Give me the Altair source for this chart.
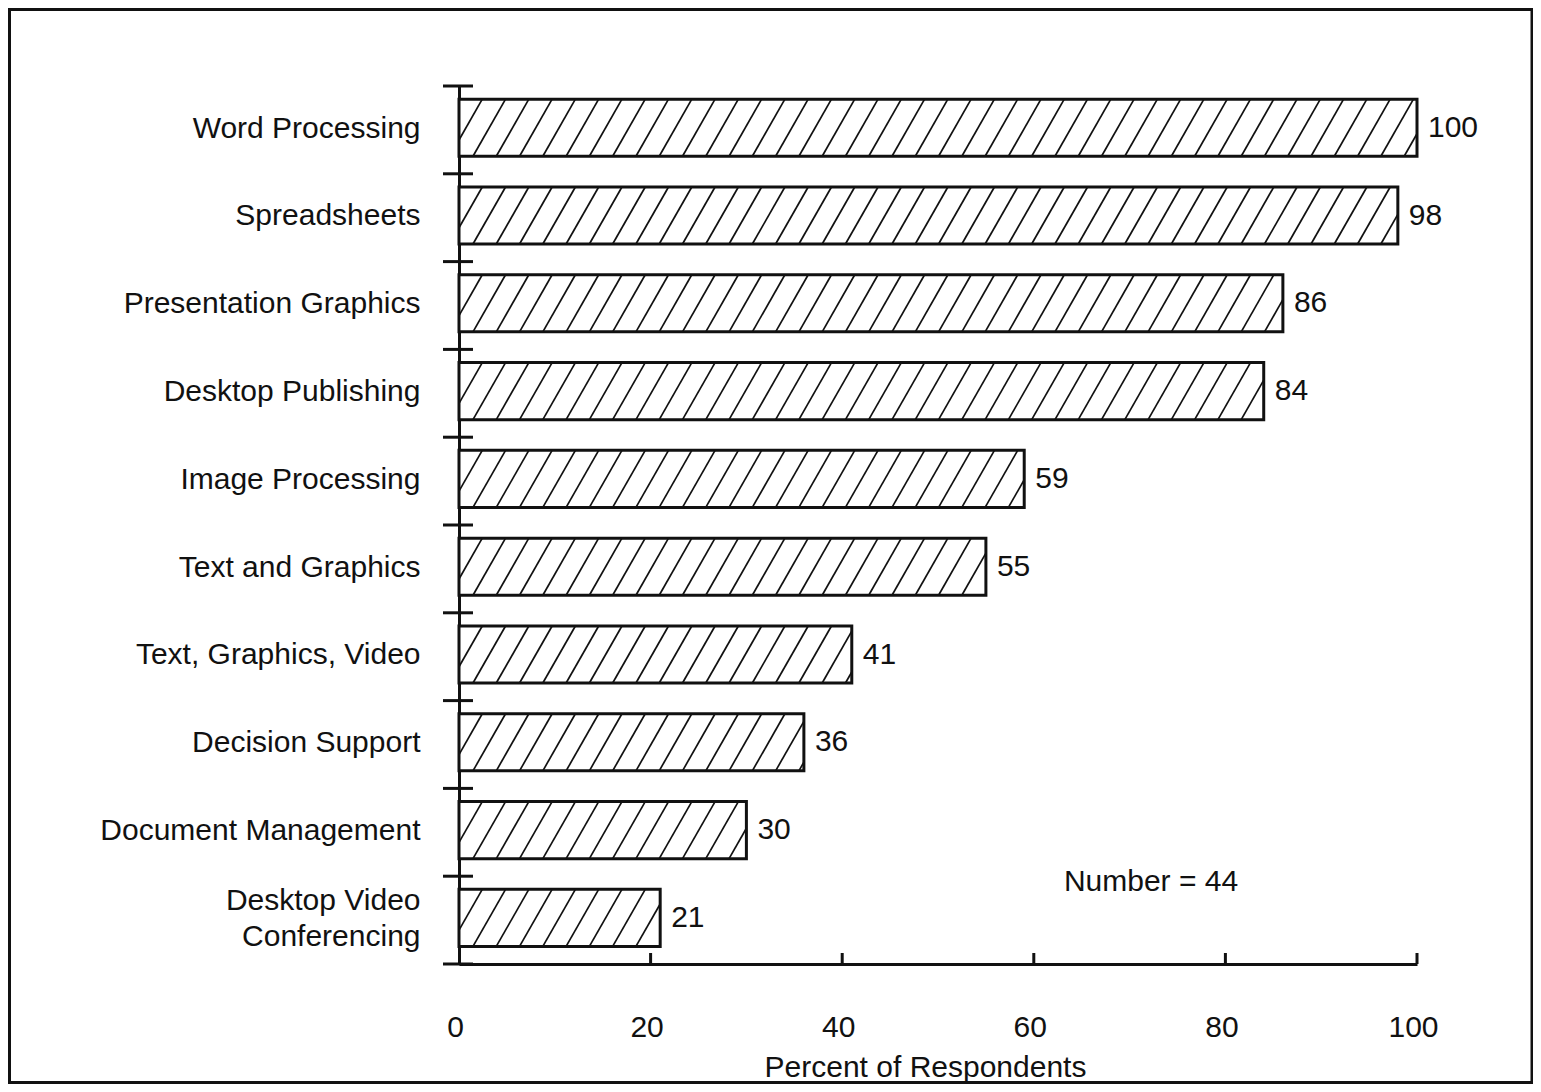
import json
import math
import altair as alt
import pandas as pd

# ---------------- data ----------------
categories = [
    "Word Processing",
    "Spreadsheets",
    "Presentation Graphics",
    "Desktop Publishing",
    "Image Processing",
    "Text and Graphics",
    "Text, Graphics, Video",
    "Decision Support",
    "Document Management",
    "Desktop Video Conferencing",
]
label_lines = [
    ["Word Processing"],
    ["Spreadsheets"],
    ["Presentation Graphics"],
    ["Desktop Publishing"],
    ["Image Processing"],
    ["Text and Graphics"],
    ["Text, Graphics, Video"],
    ["Decision Support"],
    ["Document Management"],
    ["Desktop Video", "Conferencing"],
]
values = [100, 98, 86, 84, 59, 55, 41, 36, 30, 21]
x_ticks = [0, 20, 40, 60, 80, 100]
x_title = "Percent of Respondents"
note_text = "Number = 44"

# ---------------- styling constants ----------------
FONT = "Liberation Sans"
FS = 30
LINE_H = 36
INK = "#111111"
BAR_TOP, BAR_BOT = 0.15, 0.80          # fraction of a category slot
HATCH_STEP, HATCH_RUN, HATCH_PHASE = 2.43, 3.4, 1.46   # in x data units
PLOT_W, PLOT_H = 958, 878

n = len(categories)
bars = pd.DataFrame({"cat": categories, "value": values, "pos": list(range(n))})
bars["zero"] = 0
bars["y0"] = bars["pos"] + BAR_TOP
bars["y1"] = bars["pos"] + BAR_BOT
bars["yc"] = bars["pos"] + (BAR_TOP + BAR_BOT) / 2

# hatch segments, clipped to each bar
rows = []
for p, v in zip(bars["pos"], bars["value"]):
    yb, yt = p + BAR_BOT, p + BAR_TOP
    k = math.floor((-HATCH_RUN - HATCH_PHASE) / HATCH_STEP)
    while True:
        xb = HATCH_PHASE + k * HATCH_STEP
        if xb >= v:
            break
        t0 = max(0.0, (0 - xb) / HATCH_RUN)
        t1 = min(1.0, (v - xb) / HATCH_RUN)
        if t1 > t0:
            rows.append({
                "hx": xb + t0 * HATCH_RUN, "hy": yb + t0 * (yt - yb),
                "hx2": xb + t1 * HATCH_RUN, "hy2": yb + t1 * (yt - yb),
            })
        k += 1
hatch = pd.DataFrame(rows)

ticks_y = pd.DataFrame({"ty": list(range(n + 1))})
ticks_x = pd.DataFrame({"tx": [t for t in x_ticks if t > 0]})

xscale = alt.Scale(domain=[0, 100], nice=False, zero=False)
yscale = alt.Scale(domain=[0, n], nice=False, zero=False, reverse=True)

# label anchor per category: slot centre, lifted for multi-line labels so the
# block is centred on the slot
slot_px = PLOT_H / n
label_pos = [i + 0.48 - (len(lines) - 1) * LINE_H / 2 / slot_px
             for i, lines in enumerate(label_lines)]
label_expr = json.dumps(label_lines) + "[floor(datum.value)]"

x_axis = alt.Axis(
    values=x_ticks, ticks=False, grid=False, domain=True, domainWidth=3,
    domainColor=INK, labelFontSize=FS, labelColor=INK, labelPadding=63,
    labelBaseline="middle", labelFont=FONT, labelOffset=-4, labelFlush=False,
    title=x_title, titleFont=FONT, titleFontSize=FS, titleFontWeight="normal",
    titleColor=INK, titlePadding=10, titleX=PLOT_W / 2 - 13, titleAlign="center",
)
y_axis = alt.Axis(
    values=label_pos, labelExpr=label_expr, ticks=False,
    grid=False, domain=True, domainWidth=3, domainColor=INK, labelFontSize=FS,
    labelColor=INK, labelPadding=39, labelAlign="right", labelBaseline="middle",
    labelFont=FONT, labelLineHeight=LINE_H, labelOverlap=False, labelLimit=500,
    title="",
)

base_bars = alt.Chart(bars)

bar_fill = base_bars.mark_rect(fill="white", strokeWidth=0).encode(
    x=alt.X("zero:Q", scale=xscale, axis=x_axis),
    x2=alt.X2("value:Q"),
    y=alt.Y("y0:Q", scale=yscale, axis=y_axis),
    y2=alt.Y2("y1:Q"),
)

hatch_layer = alt.Chart(hatch).mark_rule(color=INK, strokeWidth=1.7).encode(
    x=alt.X("hx:Q", scale=xscale),
    x2="hx2:Q",
    y=alt.Y("hy:Q", scale=yscale),
    y2="hy2:Q",
)

bar_outline = base_bars.mark_rect(fill=None, stroke=INK, strokeWidth=3).encode(
    x=alt.X("zero:Q", scale=xscale),
    x2=alt.X2("value:Q"),
    y=alt.Y("y0:Q", scale=yscale),
    y2=alt.Y2("y1:Q"),
)

value_labels = base_bars.mark_text(
    align="left", baseline="middle", dx=11, fontSize=FS, font=FONT, color=INK
).encode(
    x=alt.X("value:Q", scale=xscale),
    y=alt.Y("yc:Q", scale=yscale),
    text="value:Q",
)

ytick_layer = alt.Chart(ticks_y).mark_rule(color=INK, strokeWidth=3).encode(
    x=alt.value(-16), x2=alt.value(14),
    y=alt.Y("ty:Q", scale=yscale),
)

xtick_layer = alt.Chart(ticks_x).mark_rule(color=INK, strokeWidth=3).encode(
    x=alt.X("tx:Q", scale=xscale),
    y=alt.value(PLOT_H), y2=alt.value(PLOT_H - 11),
)

note = alt.Chart(pd.DataFrame({"t": [note_text]})).mark_text(
    fontSize=FS, font=FONT, color=INK, align="center", baseline="middle"
).encode(x=alt.value(692), y=alt.value(796), text="t:N")

frame = alt.Chart(pd.DataFrame({"f": [0]})).mark_rect(
    fill=None, stroke=INK, strokeWidth=3
).encode(x=alt.value(-449.5), x2=alt.value(1073), y=alt.value(-76.5), y2=alt.value(996.5))

chart = alt.layer(
    bar_fill, frame, hatch_layer, bar_outline, value_labels,
    ytick_layer, xtick_layer, note,
).properties(
    width=PLOT_W, height=PLOT_H,
    autosize=alt.AutoSizeParams(type="none"),
    padding={"left": 451, "top": 78, "right": 116, "bottom": 120},
    background="white",
).configure(
    font=FONT,
    view=alt.ViewConfig(strokeWidth=0, stroke="transparent"),
)

chart.save("out.html", embed_options={"renderer": "svg", "actions": False})
